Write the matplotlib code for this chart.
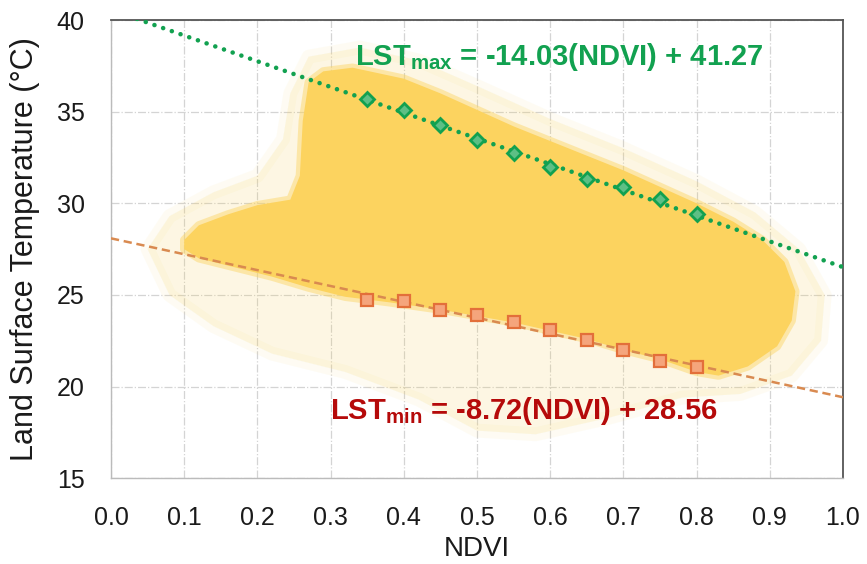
import numpy as np
import matplotlib
matplotlib.use("Agg")
import matplotlib.pyplot as plt
from matplotlib.patches import Polygon

plt.rcParams["font.family"] = ["Liberation Sans", "DejaVu Sans"]
plt.rcParams["mathtext.fontset"] = "custom"
plt.rcParams["mathtext.rm"] = "Liberation Sans"
plt.rcParams["mathtext.bf"] = "Liberation Sans:bold"

# bin centres (NDVI) and edge points
ndvi_bins = [0.35, 0.40, 0.45, 0.50, 0.55, 0.60, 0.65, 0.70, 0.75, 0.80]
lst_max_pts = [35.69, 35.09, 34.27, 33.45, 32.72, 32.00, 31.33, 30.90, 30.23, 29.42]
lst_min_pts = [24.72, 24.67, 24.18, 23.89, 23.52, 23.09, 22.54, 22.00, 21.40, 21.05]

# fitted edges as drawn (ends at NDVI 0 and 1)
line_x = [0.0, 1.0]
dry_edge = [40.56, 26.52]
wet_edge = [28.09, 19.42]

# outline of the dense part of the pixel cloud (NDVI, LST)
cloud_core = [(0.10, 28.0), (0.12, 28.8), (0.16, 29.4), (0.20, 29.9), (0.245, 30.2),
              (0.258, 31.5), (0.262, 34.5), (0.27, 36.6), (0.29, 37.2), (0.33, 37.4),
              (0.40, 36.8), (0.45, 36.0), (0.50, 35.1), (0.55, 34.2), (0.60, 33.4),
              (0.65, 32.6), (0.70, 31.8), (0.75, 30.9), (0.80, 30.0), (0.85, 29.0),
              (0.89, 28.0), (0.92, 26.8), (0.935, 25.2), (0.93, 23.6), (0.91, 22.2),
              (0.87, 21.1), (0.83, 20.6), (0.80, 20.8), (0.75, 21.5), (0.70, 22.0),
              (0.65, 22.6), (0.55, 23.5), (0.45, 24.2), (0.38, 24.6), (0.32, 24.9),
              (0.27, 25.4), (0.22, 26.0), (0.16, 26.6), (0.12, 27.0), (0.10, 27.5)]
# outline of the sparse halo round it
cloud_halo = [(0.05, 27.5), (0.08, 29.3), (0.14, 30.6), (0.20, 31.5), (0.235, 33.5),
              (0.245, 36.0), (0.27, 38.0), (0.34, 38.5), (0.42, 37.8), (0.50, 36.4),
              (0.60, 34.6), (0.70, 33.0), (0.80, 31.2), (0.88, 29.5), (0.94, 27.5),
              (0.975, 25.0), (0.97, 22.5), (0.93, 20.6), (0.86, 19.6), (0.78, 19.4),
              (0.68, 18.3), (0.58, 17.4), (0.50, 17.6), (0.42, 19.3), (0.32, 20.8),
              (0.22, 21.8), (0.14, 23.3), (0.08, 25.0)]

x_ticks = [0.0, 0.1, 0.2, 0.3, 0.4, 0.5, 0.6, 0.7, 0.8, 0.9, 1.0]
y_ticks = [15, 20, 25, 30, 35, 40]

cloud_col = "#FCD35F"
green = "#12A150"
red_txt = "#B50A0A"

fig = plt.figure(figsize=(8.67, 5.64), dpi=100)
ax = fig.add_axes([0.128, 0.152, 0.8443, 0.8125])

# cloud: faint halo, then soft edge, then dense core
ax.add_patch(Polygon(cloud_halo, closed=True, facecolor=cloud_col, edgecolor=cloud_col,
                     alpha=0.07, lw=10, joinstyle="round", zorder=1))
ax.add_patch(Polygon(cloud_halo, closed=True, facecolor=cloud_col, edgecolor="none",
                     alpha=0.10, zorder=1))
ax.add_patch(Polygon(cloud_core, closed=True, facecolor="none", edgecolor=cloud_col,
                     alpha=0.45, lw=6, joinstyle="round", zorder=2))
ax.add_patch(Polygon(cloud_core, closed=True, facecolor=cloud_col, edgecolor="none",
                     zorder=2))

# dry / wet edges
ax.plot(line_x, dry_edge, color=green, lw=3.3, linestyle=(0, (0.01, 2.0)),
        dash_capstyle="round", zorder=3)
ax.plot(line_x, wet_edge, color="#D98A50", lw=1.8, linestyle=(0, (3.3, 1.9)), zorder=3)

ax.plot(ndvi_bins, lst_max_pts, linestyle="none", marker="D", markersize=7.5,
        markerfacecolor="#5DBF85", markeredgecolor=green, markeredgewidth=2, zorder=4)
ax.plot(ndvi_bins, lst_min_pts, linestyle="none", marker="s", markersize=8,
        markerfacecolor="#F5A57C", markeredgecolor="#E36F3A", markeredgewidth=1.6, zorder=4)

ax.text(0.333, 38.0, r"$\mathbf{LST_{max}}$ = -14.03(NDVI) + 41.27", color=green,
        fontsize=21, fontweight="bold", ha="left", va="center", zorder=5)
ax.text(0.299, 18.67, r"$\mathbf{LST_{min}}$ = -8.72(NDVI) + 28.56", color=red_txt,
        fontsize=21, fontweight="bold", ha="left", va="center", zorder=5)

ax.set_xlim(0, 1)
ax.set_ylim(15, 40)
ax.set_xticks(x_ticks)
ax.set_xticklabels([f"{t:.1f}" for t in x_ticks])
ax.set_yticks(y_ticks)
ax.tick_params(length=0, labelsize=18, colors="#1a1a1a")
ax.tick_params(axis="y", pad=19)
ax.tick_params(axis="x", pad=20)
ax.grid(True, color="#D4D4D4", lw=0.9, linestyle="-.")
ax.set_axisbelow(True)

for side in ["top", "right"]:
    ax.spines[side].set_color("#555555")
    ax.spines[side].set_linewidth(1.3)
for side in ["left", "bottom"]:
    ax.spines[side].set_color("#BBBBBB")
    ax.spines[side].set_linewidth(1.0)

ax.set_xlabel("NDVI", fontsize=20, color="#1a1a1a", labelpad=4)
ax.set_ylabel("Land Surface Temperature (\u00b0C)", fontsize=22, color="#1a1a1a", labelpad=12)

fig.savefig("out.png", dpi=100)
